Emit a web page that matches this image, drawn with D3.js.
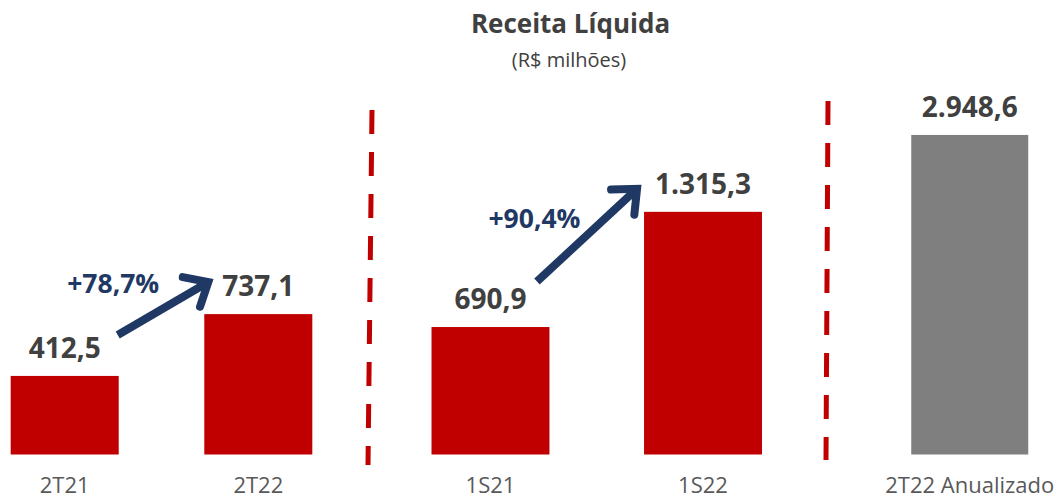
<!DOCTYPE html>
<html>
<head>
<meta charset="utf-8">
<script src="https://cdn.jsdelivr.net/npm/d3@7"></script>
<style>
  html, body { margin: 0; padding: 0; background: #fff; }
  svg { display: block; font-family: "Open Sans", sans-serif; }
</style>
</head>
<body>
<svg id="chart" width="1063" height="499"></svg>
<script>
// ---- data ----
const categoriesQuarter = ["2T21", "2T22"];
const valuesQuarter = [412.5, 737.1];
const categoriesSemester = ["1S21", "1S22"];
const valuesSemester = [690.9, 1315.3];
const categoriesAnnual = ["2T22 Anualizado"];
const valuesAnnual = [2948.6];
const growthLabels = ["+78,7%", "+90,4%"];
const titleText = "Receita Líquida";
const subtitleText = "(R$ milhões)";

// ---- setup ----
const svg = d3.select("#chart");
const baseY = 454.5;
const RED = "#c00000", GRAY = "#7f7f7f", NAVY = "#1f3864", DARK = "#404040", LABEL = "#595959";

const ptBR = d3.formatLocale({ decimal: ",", thousands: ".", grouping: [3], currency: ["R$", ""] });
const fmt = ptBR.format(",.1f");

const panels = [
  { cats: categoriesQuarter, vals: valuesQuarter, color: RED,
    x: d3.scaleBand().domain(categoriesQuarter).range([1, 322]).paddingInner(0.442).paddingOuter(0.05),
    y: d3.scaleLinear().domain([0, 2100]).range([baseY, baseY - 400]) },
  { cats: categoriesSemester, vals: valuesSemester, color: RED,
    x: d3.scaleBand().domain(categoriesSemester).range([389, 804.5]).paddingInner(0.445).paddingOuter(0.2),
    y: d3.scaleLinear().domain([0, 2168]).range([baseY, baseY - 400]) },
  { cats: categoriesAnnual, vals: valuesAnnual, color: GRAY,
    x: d3.scaleBand().domain(categoriesAnnual).range([882, 1057.5]).padding(0.2),
    y: d3.scaleLinear().domain([0, 3691]).range([baseY, baseY - 400]) }
];

// title
svg.append("text").attr("x", 570.5).attr("y", 33).attr("text-anchor", "middle")
  .attr("font-size", 26).attr("font-weight", 700).attr("fill", DARK).text(titleText);
svg.append("text").attr("x", 569).attr("y", 67).attr("text-anchor", "middle")
  .attr("font-size", 20).attr("fill", DARK).text(subtitleText);

// separators
const sepG = svg.append("g").attr("stroke", RED).attr("stroke-width", 5).attr("stroke-dasharray", "24 18");
sepG.append("line").attr("x1", 372).attr("y1", 110).attr("x2", 368).attr("y2", 465);
sepG.append("line").attr("x1", 828).attr("y1", 101).attr("x2", 826).attr("y2", 460);

panels.forEach(p => {
  const data = p.cats.map((c, i) => ({ c, v: p.vals[i] }));
  const g = svg.append("g");
  g.selectAll("rect").data(data).join("rect")
    .attr("x", d => p.x(d.c)).attr("width", p.x.bandwidth())
    .attr("y", d => p.y(d.v)).attr("height", d => p.y(0) - p.y(d.v))
    .attr("fill", p.color);
  g.selectAll("text.val").data(data).join("text").attr("class", "val")
    .attr("x", d => p.x(d.c) + p.x.bandwidth() / 2)
    .attr("y", d => p.y(d.v) - 18)
    .attr("text-anchor", "middle").attr("font-size", 28).attr("font-weight", 700)
    .attr("fill", DARK).text(d => fmt(d.v));
  const ax = svg.append("g").attr("transform", `translate(0,${baseY})`)
    .call(d3.axisBottom(p.x).tickSize(0).tickPadding(23));
  ax.select(".domain").remove();
  ax.selectAll("text").attr("font-size", 22).attr("fill", LABEL).attr("font-family", "Open Sans, sans-serif");
});

// growth arrows
function arrow(x1, y1, x2, y2) {
  const g = svg.append("g").attr("stroke", NAVY).attr("stroke-width", 8).attr("fill", "none");
  g.append("line").attr("x1", x1).attr("y1", y1).attr("x2", x2 - (x2 - x1) * 0.04).attr("y2", y2 - (y2 - y1) * 0.04);
  const ang = Math.atan2(y2 - y1, x2 - x1);
  const L = 26, spread = 0.72;
  const a1 = [x2 - L * Math.cos(ang - spread), y2 - L * Math.sin(ang - spread)];
  const a2 = [x2 - L * Math.cos(ang + spread), y2 - L * Math.sin(ang + spread)];
  g.append("path").attr("d", `M${a1}L${x2},${y2}L${a2}`).attr("stroke-linejoin", "miter").attr("stroke-linecap", "round");
}
const p1 = panels[0], p2 = panels[1];
{
  const x1 = p1.x(categoriesQuarter[0]) + p1.x.bandwidth() - 1, y1 = p1.y(valuesQuarter[0]) - 41;
  const x2 = p1.x(categoriesQuarter[1]) + 4, y2 = p1.y(valuesQuarter[1]) - 32;
  arrow(x1, y1, x2, y2);
  svg.append("text").attr("x", x1 - 4.5).attr("y", y1 - 42).attr("text-anchor", "middle")
    .attr("font-size", 26.5).attr("font-weight", 700).attr("fill", NAVY).text(growthLabels[0]);
}
{
  const x1 = p2.x(categoriesSemester[0]) + p2.x.bandwidth() - 12.5, y1 = p2.y(valuesSemester[0]) - 45.5;
  const x2 = p2.x(categoriesSemester[1]) - 7, y2 = p2.y(valuesSemester[1]) - 23;
  arrow(x1, y1, x2, y2);
  svg.append("text").attr("x", x1 - 2.5).attr("y", y1 - 53.5).attr("text-anchor", "middle")
    .attr("font-size", 26.5).attr("font-weight", 700).attr("fill", NAVY).text(growthLabels[1]);
}
</script>
</body>
</html>
